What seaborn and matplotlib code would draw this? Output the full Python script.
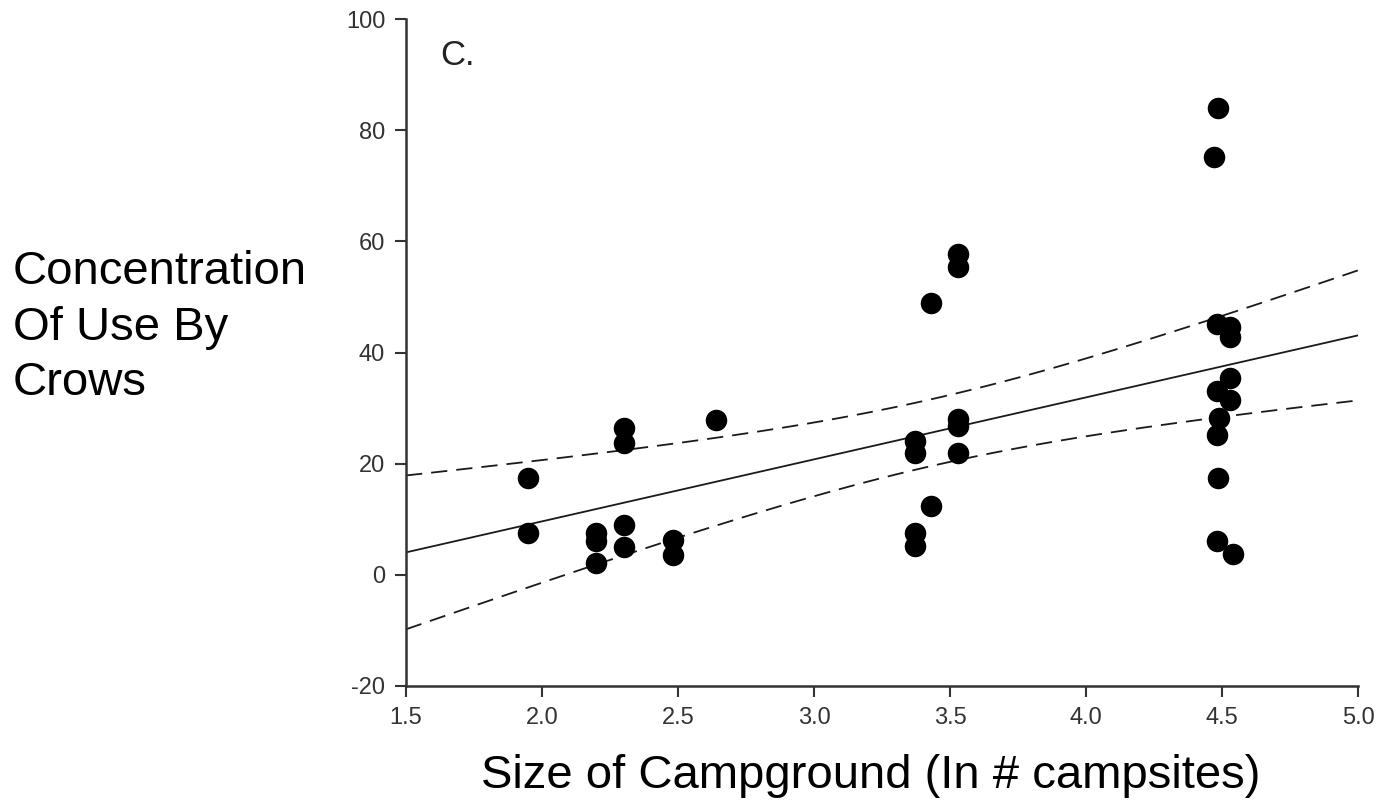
import matplotlib
matplotlib.use("Agg")
import matplotlib.pyplot as plt
import seaborn as sns
import numpy as np
import pandas as pd

# campground size (ln # campsites) and concentration of use by crows
size_ln = [1.95, 1.95,
           2.20, 2.20, 2.20,
           2.30, 2.30, 2.30, 2.30,
           2.48, 2.48,
           2.64,
           3.37, 3.37, 3.37, 3.37,
           3.43, 3.43,
           3.53, 3.53, 3.53, 3.53, 3.53,
           4.485, 4.47, 4.48, 4.48, 4.49, 4.48, 4.485, 4.48,
           4.53, 4.53, 4.53, 4.53, 4.54]
crow_use = [17.4, 7.6,
            7.5, 6.0, 2.1,
            26.5, 23.8, 8.9, 5.0,
            6.3, 3.5,
            27.8,
            24.0, 22.0, 7.6, 5.2,
            48.9, 12.4,
            57.7, 55.3, 28.0, 26.8, 21.9,
            83.9, 75.1, 45.1, 33.0, 28.2, 25.2, 17.4, 6.0,
            44.5, 42.7, 35.4, 31.5, 3.8]

x_ticks = [1.5, 2.0, 2.5, 3.0, 3.5, 4.0, 4.5, 5.0]
y_ticks = [-20, 0, 20, 40, 60, 80, 100]

df = pd.DataFrame({"size": size_ln, "use": crow_use})

sns.set_theme(style="ticks")
plt.rcParams['font.family'] = ['Liberation Sans', 'DejaVu Sans']

fig = plt.figure(figsize=(13.79, 8), dpi=100)
ax = fig.add_axes([406 / 1379, 1 - 686 / 800, (1358 - 406) / 1379, (686 - 19) / 800])

# least squares fit with 95% confidence band for the mean
x = df["size"].values
y = df["use"].values
n = len(x)
slope, intercept = np.polyfit(x, y, 1)
resid = y - (slope * x + intercept)
s_err = np.sqrt(np.sum(resid ** 2) / (n - 2))
t_val = 2.03
xx = np.linspace(1.5, 5.0, 100)
yy = slope * xx + intercept
half = t_val * s_err * np.sqrt(1 / n + (xx - x.mean()) ** 2 / np.sum((x - x.mean()) ** 2))

ax.plot(xx, yy, color="#1a1a1a", lw=1.3)
ax.plot(xx, yy + half, color="#1a1a1a", lw=1.3, dashes=(9, 5))
ax.plot(xx, yy - half, color="#1a1a1a", lw=1.3, dashes=(9, 5))

sns.scatterplot(data=df, x="size", y="use", color="black", s=240,
                edgecolor="black", linewidth=0, ax=ax, zorder=3)

ax.set_xlim(1.5, 5.0)
ax.set_ylim(-20, 100)
ax.set_xticks(x_ticks)
ax.set_xticklabels([f"{t:.1f}" for t in x_ticks])
ax.set_yticks(y_ticks)
ax.set_yticklabels([str(t) for t in y_ticks])
ax.tick_params(axis="both", labelsize=17, labelcolor="#333333", color="#333333",
               length=8, width=1.5, direction="out", pad=7)
for side in ["top", "right"]:
    ax.spines[side].set_visible(False)
for side in ["left", "bottom"]:
    ax.spines[side].set_linewidth(1.8)
    ax.spines[side].set_color("#333333")
ax.set_xlabel("")
ax.set_ylabel("")

ax.text(1.625, 93.5, "C.", fontsize=25, color="#222222", va="center", ha="left")

fig.text(13 / 1379, 1 - 250 / 800, "Concentration\nOf Use By\nCrows",
         fontsize=34, color="black", ha="left", va="top", linespacing=1.34)
fig.text(871 / 1379, 1 - 788 / 800, "Size of Campground (In # campsites)",
         fontsize=34, color="black", ha="center", va="baseline")

fig.savefig("out.png", dpi=100)
